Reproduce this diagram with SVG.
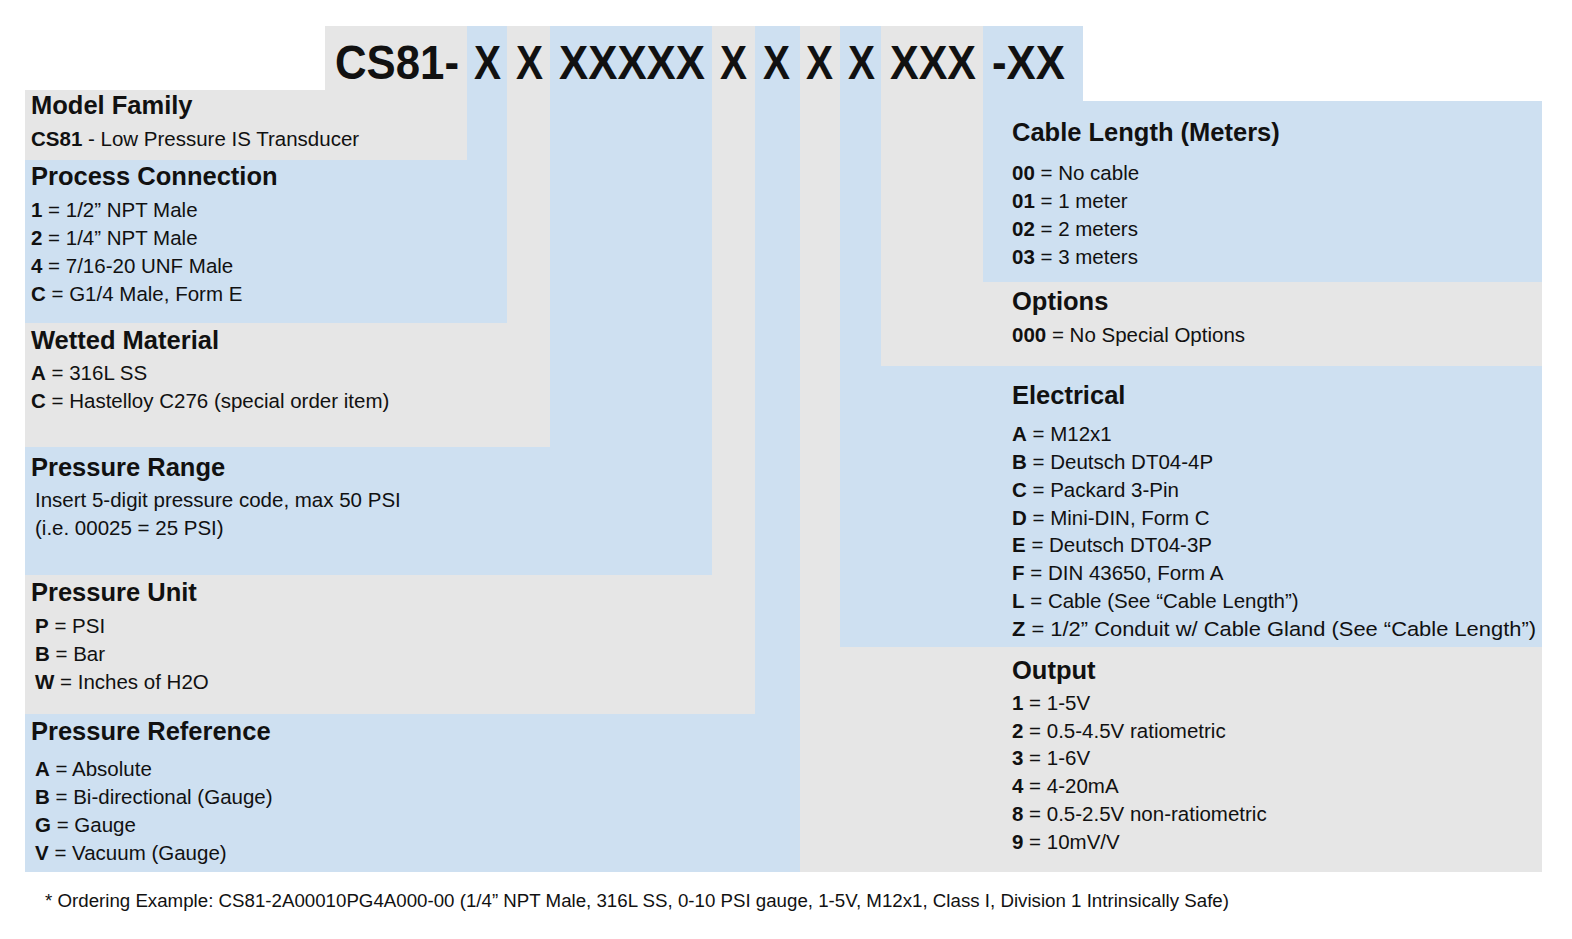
<svg xmlns="http://www.w3.org/2000/svg" width="1572" height="939" viewBox="0 0 1572 939">
<style>
.b{fill:#cee0f1}.g{fill:#e6e6e6}
text{font-family:"Liberation Sans",Arial,sans-serif;fill:#111}
.h{font-size:48px;font-weight:bold}
.t{font-size:25.5px;font-weight:bold}
.x{font-size:20.5px}
.x tspan.k{font-weight:bold}
.f{font-size:17.5px}
</style>
<rect width="1572" height="939" fill="#fff"/>
<g id="header">
<rect class="g" x="325" y="26" width="142" height="64"/>
<rect class="b" x="467" y="26" width="40" height="134"/>
<rect class="g" x="507" y="26" width="43" height="297"/>
<rect class="b" x="550" y="26" width="162" height="421"/>
<rect class="g" x="712" y="26" width="43" height="549"/>
<rect class="b" x="755" y="26" width="45" height="688"/>
<rect class="g" x="800" y="26" width="40" height="621"/>
<rect class="b" x="840" y="26" width="41" height="340"/>
<rect class="g" x="881" y="26" width="102" height="256"/>
<rect class="b" x="983" y="26" width="100" height="75"/>
<text class="h" x="335" y="79" textLength="124" lengthAdjust="spacingAndGlyphs">CS81-</text>
<text class="h" x="474" y="79" textLength="27" lengthAdjust="spacingAndGlyphs">X</text>
<text class="h" x="516" y="79" textLength="27" lengthAdjust="spacingAndGlyphs">X</text>
<text class="h" x="559" y="79" textLength="146" lengthAdjust="spacingAndGlyphs">XXXXX</text>
<text class="h" x="720" y="79" textLength="27" lengthAdjust="spacingAndGlyphs">X</text>
<text class="h" x="763" y="79" textLength="27" lengthAdjust="spacingAndGlyphs">X</text>
<text class="h" x="806" y="79" textLength="27" lengthAdjust="spacingAndGlyphs">X</text>
<text class="h" x="848" y="79" textLength="27" lengthAdjust="spacingAndGlyphs">X</text>
<text class="h" x="890" y="79" textLength="86" lengthAdjust="spacingAndGlyphs">XXX</text>
<text class="h" x="992" y="79" textLength="73" lengthAdjust="spacingAndGlyphs">-XX</text>
</g>
<g id="model-family">
<rect class="g" x="25" y="90" width="442" height="70"/>
<text class="t" x="31" y="114">Model Family</text>
<text class="x" x="31" y="146"><tspan class="k">CS81</tspan> - Low Pressure IS Transducer</text>
</g>
<g id="process-connection">
<rect class="b" x="25" y="160" width="482" height="163"/>
<text class="t" x="31" y="185">Process Connection</text>
<text class="x" x="31" y="217"><tspan class="k">1</tspan> = 1/2” NPT Male</text>
<text class="x" x="31" y="245"><tspan class="k">2</tspan> = 1/4” NPT Male</text>
<text class="x" x="31" y="273"><tspan class="k">4</tspan> = 7/16-20 UNF Male</text>
<text class="x" x="31" y="301"><tspan class="k">C</tspan> = G1/4 Male, Form E</text>
</g>
<g id="wetted-material">
<rect class="g" x="25" y="323" width="525" height="124"/>
<text class="t" x="31" y="349">Wetted Material</text>
<text class="x" x="31" y="380"><tspan class="k">A</tspan> = 316L SS</text>
<text class="x" x="31" y="408"><tspan class="k">C</tspan> = Hastelloy C276 (special order item)</text>
</g>
<g id="pressure-range">
<rect class="b" x="25" y="447" width="687" height="128"/>
<text class="t" x="31" y="476">Pressure Range</text>
<text class="x" x="35" y="507">Insert 5-digit pressure code, max 50 PSI</text>
<text class="x" x="35" y="535">(i.e. 00025 = 25 PSI)</text>
</g>
<g id="pressure-unit">
<rect class="g" x="25" y="575" width="730" height="139"/>
<text class="t" x="31" y="601">Pressure Unit</text>
<text class="x" x="35" y="633"><tspan class="k">P</tspan>  = PSI</text>
<text class="x" x="35" y="661"><tspan class="k">B</tspan>  = Bar</text>
<text class="x" x="35" y="689"><tspan class="k">W</tspan> = Inches of H2O</text>
</g>
<g id="pressure-reference">
<rect class="b" x="25" y="714" width="775" height="158"/>
<text class="t" x="31" y="740">Pressure Reference</text>
<text class="x" x="35" y="776"><tspan class="k">A</tspan> = Absolute</text>
<text class="x" x="35" y="804"><tspan class="k">B</tspan> = Bi-directional (Gauge)</text>
<text class="x" x="35" y="832"><tspan class="k">G</tspan> = Gauge</text>
<text class="x" x="35" y="860"><tspan class="k">V</tspan> = Vacuum (Gauge)</text>
</g>
<g id="cable-length">
<rect class="b" x="983" y="101" width="559" height="181"/>
<text class="t" x="1012" y="141">Cable Length (Meters)</text>
<text class="x" x="1012" y="180"><tspan class="k">00</tspan> = No cable</text>
<text class="x" x="1012" y="208"><tspan class="k">01</tspan> = 1 meter</text>
<text class="x" x="1012" y="236"><tspan class="k">02</tspan> = 2 meters</text>
<text class="x" x="1012" y="264"><tspan class="k">03</tspan> = 3 meters</text>
</g>
<g id="options">
<rect class="g" x="881" y="282" width="661" height="84"/>
<text class="t" x="1012" y="310">Options</text>
<text class="x" x="1012" y="342"><tspan class="k">000</tspan> = No Special Options</text>
</g>
<g id="electrical">
<rect class="b" x="840" y="366" width="702" height="281"/>
<text class="t" x="1012" y="404">Electrical</text>
<text class="x" x="1012" y="441"><tspan class="k">A</tspan> = M12x1</text>
<text class="x" x="1012" y="469"><tspan class="k">B</tspan> = Deutsch DT04-4P</text>
<text class="x" x="1012" y="497"><tspan class="k">C</tspan> = Packard 3-Pin</text>
<text class="x" x="1012" y="525"><tspan class="k">D</tspan> = Mini-DIN, Form C</text>
<text class="x" x="1012" y="552"><tspan class="k">E</tspan> = Deutsch DT04-3P</text>
<text class="x" x="1012" y="580"><tspan class="k">F</tspan> = DIN 43650, Form A</text>
<text class="x" x="1012" y="608"><tspan class="k">L</tspan> = Cable (See “Cable Length”)</text>
<text class="x" x="1012" y="636" textLength="524" lengthAdjust="spacingAndGlyphs"><tspan class="k">Z</tspan> = 1/2” Conduit w/ Cable Gland (See “Cable Length”)</text>
</g>
<g id="output">
<rect class="g" x="800" y="647" width="742" height="225"/>
<text class="t" x="1012" y="679">Output</text>
<text class="x" x="1012" y="710"><tspan class="k">1</tspan> = 1-5V</text>
<text class="x" x="1012" y="738"><tspan class="k">2</tspan> = 0.5-4.5V ratiometric</text>
<text class="x" x="1012" y="765"><tspan class="k">3</tspan> = 1-6V</text>
<text class="x" x="1012" y="793"><tspan class="k">4</tspan> = 4-20mA</text>
<text class="x" x="1012" y="821"><tspan class="k">8</tspan> = 0.5-2.5V  non-ratiometric</text>
<text class="x" x="1012" y="849"><tspan class="k">9</tspan> = 10mV/V</text>
</g>
<g id="connectors"></g>
<text class="f" x="45" y="907" textLength="1184" lengthAdjust="spacingAndGlyphs">* Ordering Example: CS81-2A00010PG4A000-00 (1/4” NPT Male, 316L SS, 0-10 PSI gauge, 1-5V, M12x1, Class I, Division 1 Intrinsically Safe)</text>
</svg>
